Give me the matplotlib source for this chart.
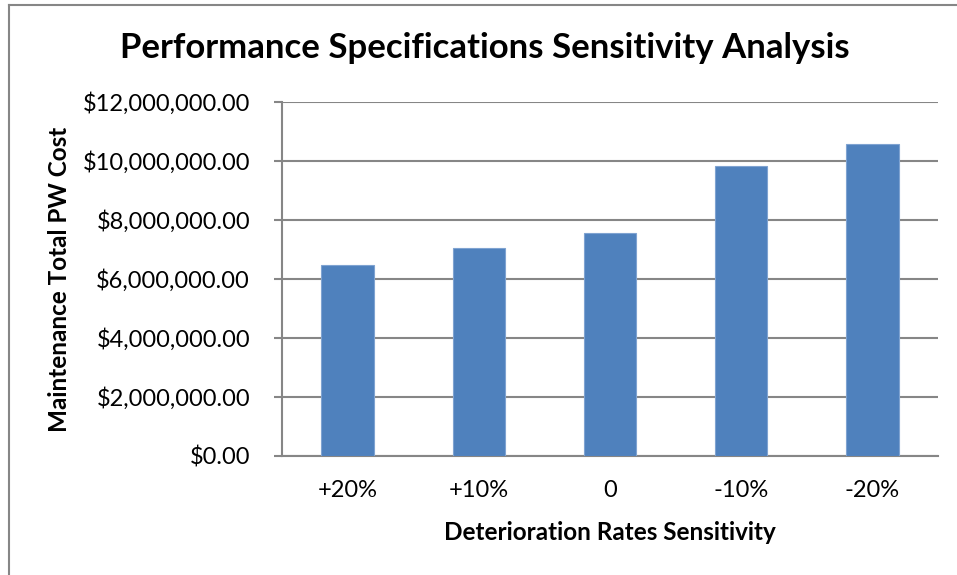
import matplotlib.pyplot as plt
from matplotlib.lines import Line2D
from matplotlib.ticker import FuncFormatter

categories = ['+20%', '+10%', '0', '-10%', '-20%']
pw_cost = [6470000, 7050000, 7550000, 9830000, 10590000]
y_ticks = [0, 2000000, 4000000, 6000000, 8000000, 10000000, 12000000]

plt.rcParams['font.family'] = ['Lato', 'DejaVu Sans']

bar_color = '#4F81BD'
grid_color = '#868686'

fig = plt.figure(figsize=(9.57, 5.75), dpi=100)
ax = fig.add_axes([0.2947, 0.207, 0.6853, 0.6156])

x = range(len(categories))
ax.bar(x, pw_cost, width=0.4, color=bar_color, edgecolor='#7FA3D1', linewidth=0.8, zorder=3)

ax.set_xlim(-0.5, len(categories) - 0.5)
ax.set_ylim(0, 12000000)
ax.set_yticks(y_ticks)
ax.yaxis.set_major_formatter(FuncFormatter(lambda v, p: '${:,.2f}'.format(v)))
ax.set_xticks(list(x))
ax.set_xticklabels(categories)

ax.grid(axis='y', color=grid_color, linewidth=1.5, zorder=0)
for side in ['top', 'right']:
    ax.spines[side].set_visible(False)
for side in ['left', 'bottom']:
    ax.spines[side].set_color(grid_color)
    ax.spines[side].set_linewidth(1.5)

ax.tick_params(axis='y', length=6, width=1.5, color=grid_color, labelsize=17, pad=17)
ax.tick_params(axis='x', length=0, labelsize=17, pad=17)

ax.set_xlabel('Deterioration Rates Sensitivity', fontsize=17.5, fontweight='bold', labelpad=15)
ax.set_ylabel('Maintenance Total PW Cost', fontsize=17.5, fontweight='bold', labelpad=8)
fig.text(0.507, 0.917, 'Performance Specifications Sensitivity Analysis',
         ha='center', va='center', fontsize=25, fontweight='bold')

# chart area border
fig.add_artist(Line2D([8.5 / 957, 8.5 / 957], [0, 1 - 4.5 / 575], color=grid_color, linewidth=1.5))
fig.add_artist(Line2D([8.5 / 957, 1], [1 - 4.5 / 575, 1 - 4.5 / 575], color=grid_color, linewidth=1.5))

fig.savefig('out.png', dpi=100)
